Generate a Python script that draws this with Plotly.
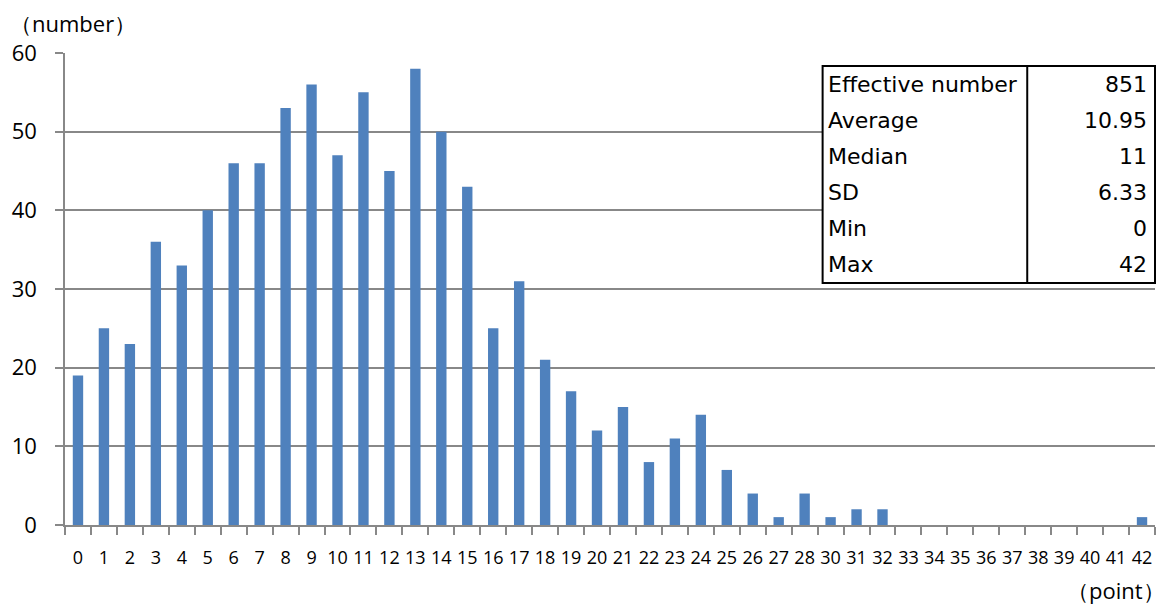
import plotly.graph_objects as go

points = [str(i) for i in range(0, 29)] + [str(i) for i in range(30, 43)]
counts = [19, 25, 23, 36, 33, 40, 46, 46, 53, 56, 47, 55, 45, 58, 50, 43, 25, 31,
          21, 17, 12, 15, 8, 11, 14, 7, 4, 1, 4,
          1, 2, 2, 0, 0, 0, 0, 0, 0, 0, 0, 0, 1]
y_ticks = [0, 10, 20, 30, 40, 50, 60]
stat_labels = ["Effective number", "Average", "Median", "SD", "Min", "Max"]
stat_values = ["851", "10.95", "11", "6.33", "0", "42"]

W, H = 1169, 605
L, R, T, B = 63, 14, 53, 80
pw, ph = W - L - R, H - T - B

def px(x):
    return (x - L) / pw

def py(y):
    return (H - B - y) / ph

fig = go.Figure()
fig.add_trace(go.Bar(
    x=points, y=counts,
    marker=dict(color="#4F81BD", line=dict(width=0)),
    hoverinfo="x+y",
))

tick_font = "Open Sans, sans-serif"

fig.update_layout(
    width=W, height=H,
    margin=dict(l=L, r=R, t=T, b=B),
    plot_bgcolor="white", paper_bgcolor="white",
    bargap=0.6,
    showlegend=False,
    font=dict(family=tick_font, color="black"),
    xaxis=dict(
        type="category",
        tickson="boundaries",
        ticks="outside", ticklen=8, tickcolor="#888888", tickwidth=1.5,
        showline=True, linecolor="#888888", linewidth=1.5,
        showgrid=False,
        tickfont=dict(size=18, family=tick_font),
        tickangle=0,
        ticklabelstandoff=16,
        range=[-0.5, len(points) - 0.5],
        fixedrange=True,
    ),
    yaxis=dict(
        range=[0, 60],
        tickvals=y_ticks,
        ticks="outside", ticklen=8, tickcolor="#888888", tickwidth=1.5,
        showline=True, linecolor="#888888", linewidth=1.5,
        showgrid=True, gridcolor="#888888", gridwidth=1.5,
        zeroline=False,
        tickfont=dict(size=22, family=tick_font),
        ticklabelstandoff=14,
        fixedrange=True,
    ),
)

# Axis unit labels
fig.add_annotation(text="（number）", xref="paper", yref="paper",
                   x=px(6), y=py(23), xanchor="left", yanchor="middle",
                   showarrow=False, font=dict(size=22, family=tick_font))
fig.add_annotation(text="（point）", xref="paper", yref="paper",
                   x=px(1167), y=py(590), xanchor="right", yanchor="middle",
                   showarrow=False, font=dict(size=22, family=tick_font))

# Stats table
tx0, tx1, tdiv = 822, 1155, 1027
ty0, ty1 = 66, 283
fig.add_shape(type="rect", xref="paper", yref="paper",
              x0=px(tx0), x1=px(tx1), y0=py(ty1), y1=py(ty0),
              fillcolor="white", line=dict(color="black", width=2), layer="above")
fig.add_shape(type="line", xref="paper", yref="paper",
              x0=px(tdiv), x1=px(tdiv), y0=py(ty1), y1=py(ty0),
              line=dict(color="black", width=2), layer="above")
rh = (ty1 - ty0) / len(stat_labels)
for i, (lab, val) in enumerate(zip(stat_labels, stat_values)):
    cy = ty0 + rh * (i + 0.5)
    fig.add_annotation(text=lab, xref="paper", yref="paper",
                       x=px(tx0 + 3), y=py(cy), xanchor="left", yanchor="middle",
                       showarrow=False, font=dict(size=22, family="DejaVu Sans, sans-serif"))
    fig.add_annotation(text=val, xref="paper", yref="paper",
                       x=px(tx1 - 6), y=py(cy), xanchor="right", yanchor="middle",
                       showarrow=False, font=dict(size=22, family="DejaVu Sans, sans-serif"))

fig.write_html("out.html",
               config={"displayModeBar": False},
               post_script="document.body.style.margin='0';document.body.style.overflow='hidden';")
